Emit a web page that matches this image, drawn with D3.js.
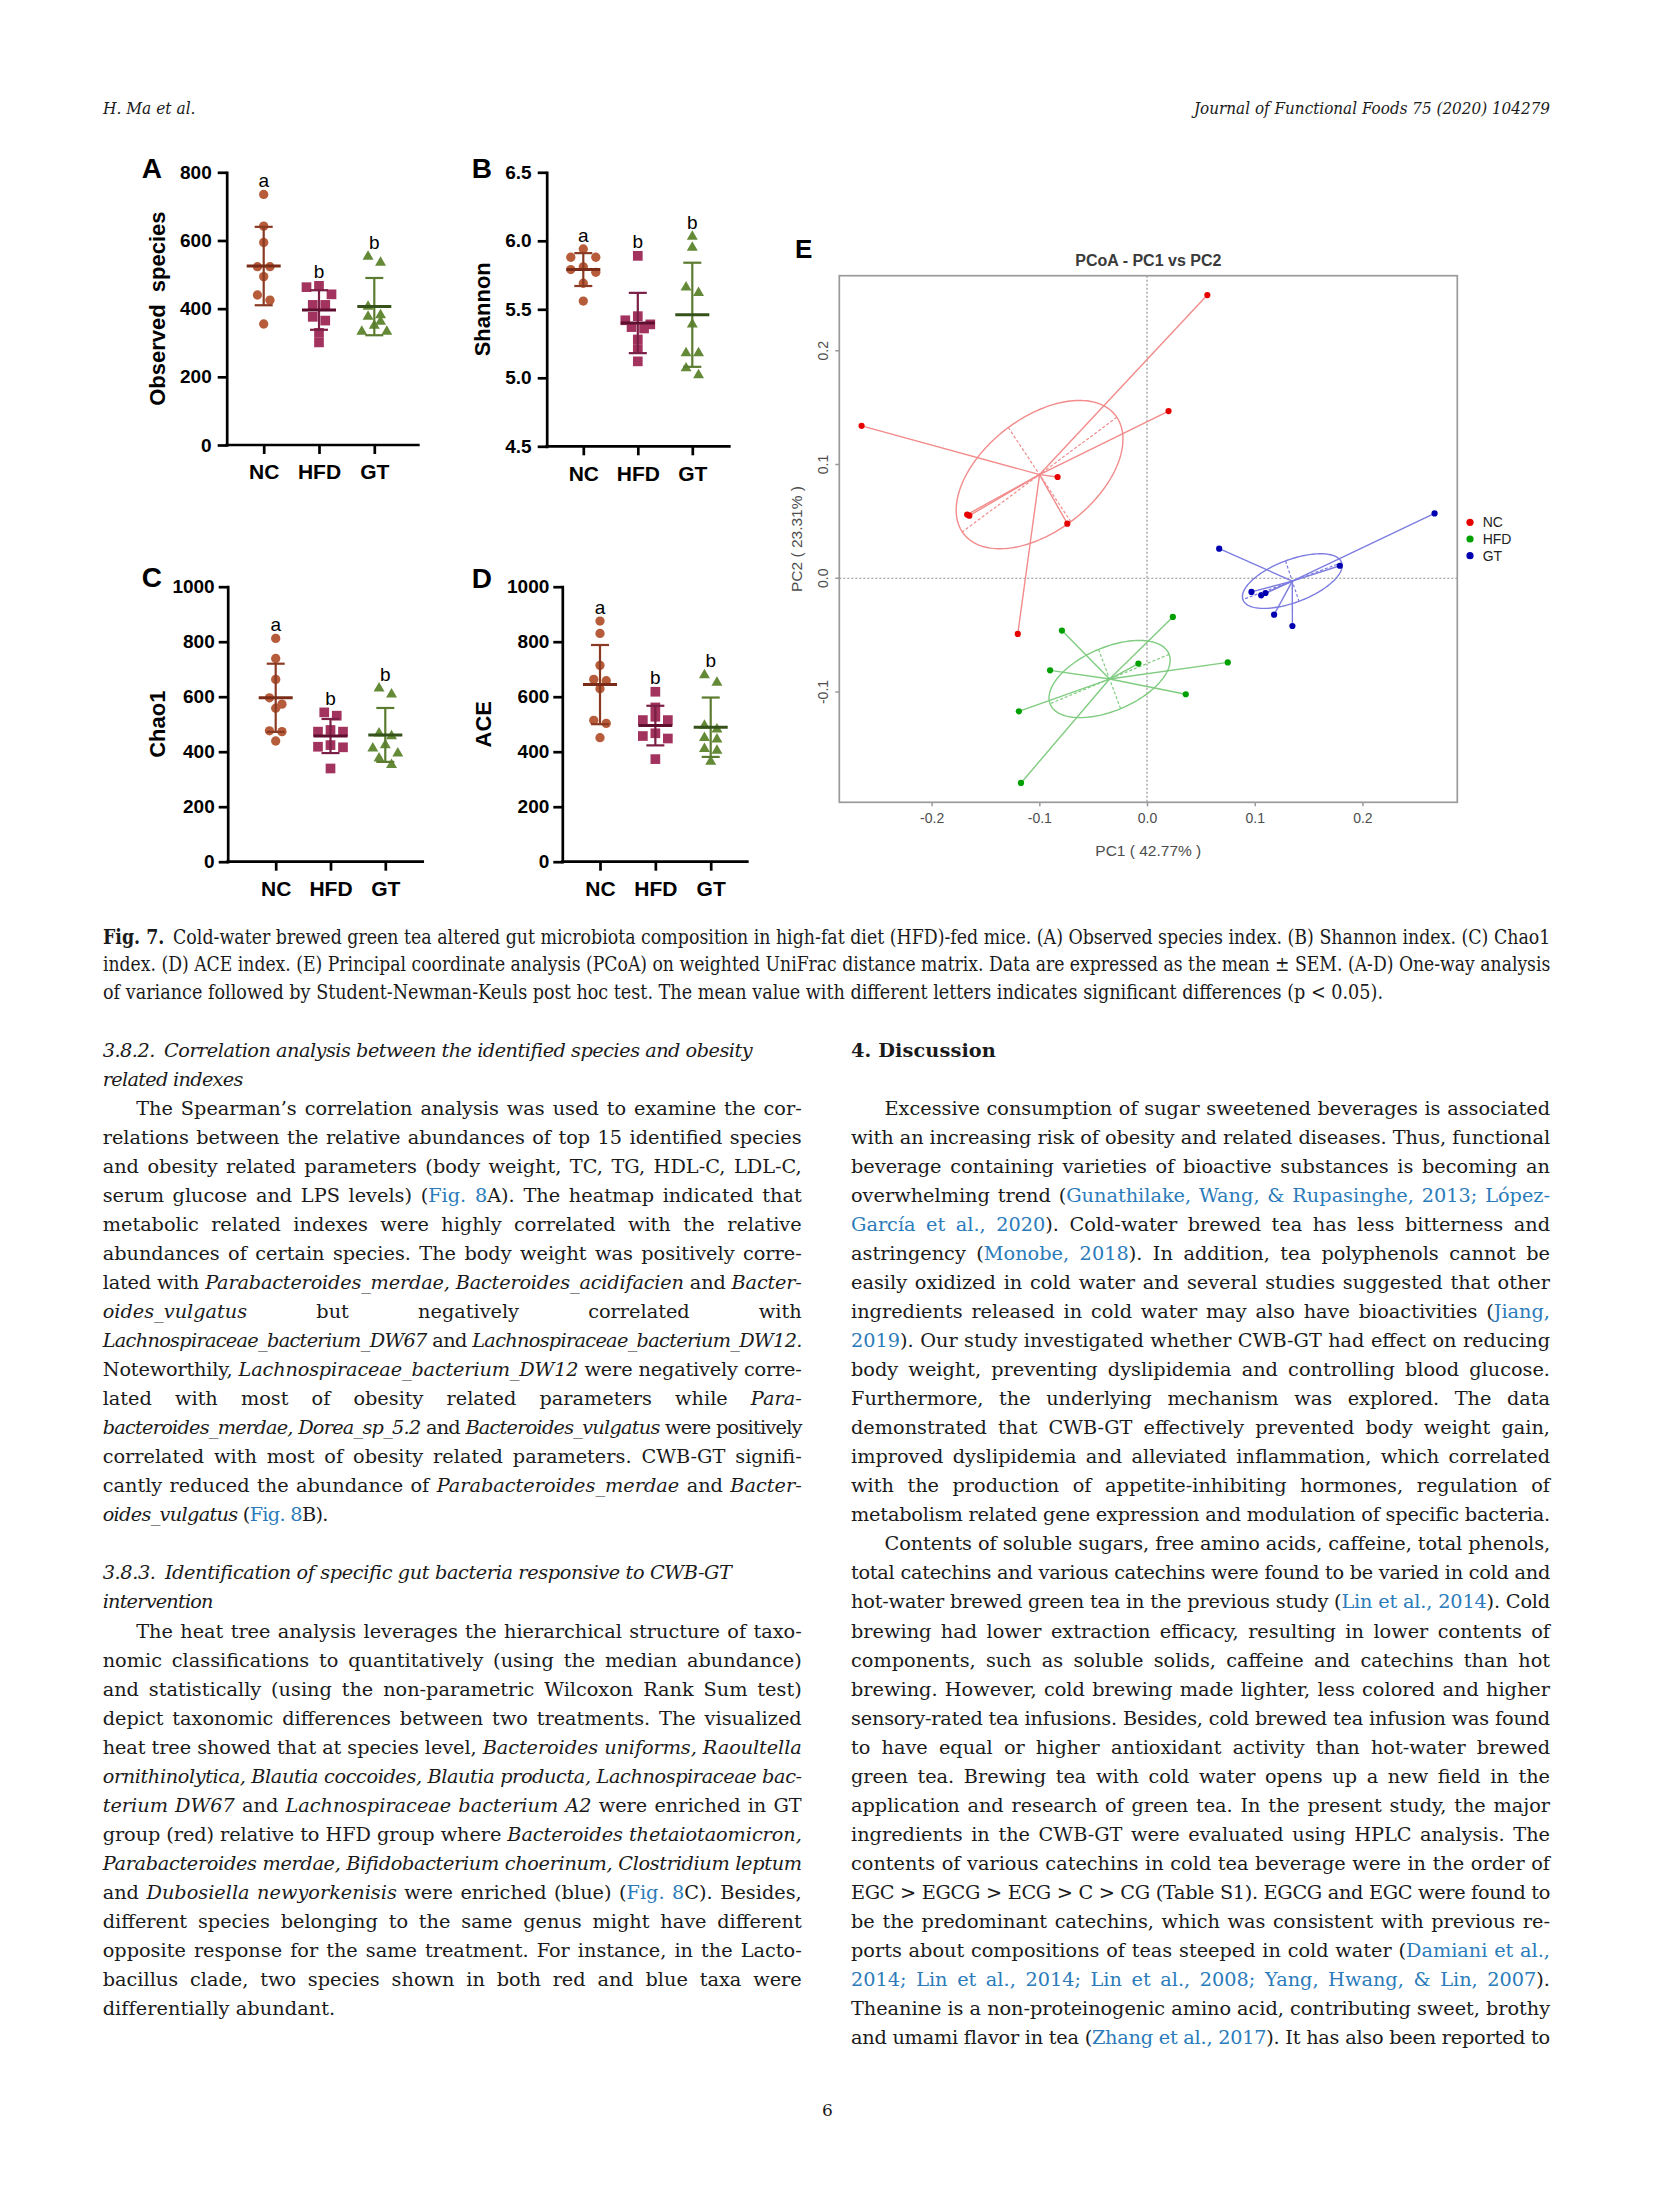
<!DOCTYPE html>
<html><head><meta charset="utf-8">
<script src="https://cdn.jsdelivr.net/npm/d3@7/dist/d3.min.js"></script>
<style>
html,body{margin:0;padding:0;background:#fff;}
#page{position:relative;width:1654px;height:2205px;overflow:hidden;background:#fff;}
#fig{position:absolute;left:0;top:0;}
.ln{position:absolute;white-space:nowrap;font-family:"DejaVu Serif",serif;color:#1a1a1a;transform-origin:0 50%;}
.ln a{color:#2b7bba;text-decoration:none;}
</style></head>
<body><div id="page"></div>
<script>
// ---------------- DATA ----------------
const groups = ["NC", "HFD", "GT"];

// (A) Observed species
const obsNC  = [735, 642, 594, 523, 523, 494, 440, 425, 355];
const obsHFD = [467, 463, 442, 411, 411, 376, 365, 329, 301];
const obsGT  = [553, 535, 406, 381, 377, 362, 350, 333, 333];
const obsMean = [525, 396, 406];
const obsSD   = [115, 58, 84];
const obsLetters = ["a", "b", "b"];
const obsTicks = [0, 200, 400, 600, 800];

// (B) Shannon
const shaNC  = [5.94, 5.88, 5.88, 5.81, 5.79, 5.77, 5.69, 5.56];
const shaHFD = [5.89, 5.45, 5.42, 5.39, 5.37, 5.36, 5.28, 5.21, 5.12];
const shaGT  = [6.03, 5.95, 5.66, 5.62, 5.39, 5.18, 5.18, 5.07, 5.02];
const shaMean = [5.79, 5.40, 5.46];
const shaSD   = [0.12, 0.22, 0.38];
const shaLetters = ["a", "b", "b"];
const shaTicks = [4.5, 5.0, 5.5, 6.0, 6.5];

// (C) Chao1
const chaoNC  = [812, 739, 663, 596, 573, 558, 476, 473, 439];
const chaoHFD = [543, 531, 479, 473, 473, 424, 418, 416, 339];
const chaoGT  = [630, 609, 467, 457, 424, 412, 394, 376, 352];
const chaoMean = [596, 457, 461];
const chaoSD   = [124, 62, 98];
const chaoLetters = ["a", "b", "b"];

// (D) ACE
const aceNC  = [875, 830, 714, 663, 658, 629, 514, 503, 451];
const aceHFD = [618, 561, 527, 515, 515, 467, 457, 448, 373];
const aceGT  = [679, 651, 495, 481, 450, 445, 410, 404, 364];
const aceMean = [644, 495, 489];
const aceSD   = [144, 72, 108];
const aceLetters = ["a", "b", "b"];
const countTicks = [0, 200, 400, 600, 800, 1000];

// (E) PCoA (PC1, PC2)
const pcoaNC  = [[-0.265, 0.134], [-0.083, 0.089], [-0.165, 0.055], [-0.167, 0.056], [-0.074, 0.048], [0.020, 0.147], [0.056, 0.249], [-0.120, -0.049]];
const pcoaHFD = [[-0.079, -0.046], [-0.090, -0.081], [-0.119, -0.117], [-0.117, -0.180], [-0.008, -0.075], [0.024, -0.034], [0.036, -0.102], [0.075, -0.074]];
const pcoaGT  = [[0.267, 0.057], [0.067, 0.026], [0.179, 0.011], [0.097, -0.012], [0.106, -0.015], [0.110, -0.013], [0.118, -0.032], [0.135, -0.042]];
const pcoaXTicks = [-0.2, -0.1, 0.0, 0.1, 0.2];
const pcoaYTicks = [-0.1, 0.0, 0.1, 0.2];
const pcoaTitle = "PCoA - PC1 vs PC2";
const pcoaXLabel = "PC1 ( 42.77% )";
const pcoaYLabel = "PC2 ( 23.31% )";

// ---------------- TEXT ----------------
const headerLeft = "H. Ma et al.";
const headerRight = "Journal of Functional Foods 75 (2020) 104279";
const pageNumber = "6";
const captionLines = [
 "<b>Fig. 7.</b>&ensp;Cold-water brewed green tea altered gut microbiota composition in high-fat diet (HFD)-fed mice. (A) Observed species index. (B) Shannon index. (C) Chao1",
 "index. (D) ACE index. (E) Principal coordinate analysis (PCoA) on weighted UniFrac distance matrix. Data are expressed as the mean ± SEM. (A-D) One-way analysis",
 "of variance followed by Student-Newman-Keuls post hoc test. The mean value with different letters indicates significant differences (p &lt; 0.05)."
];
const leftLines = [
 {m:"h", w:649, t:"<i>3.8.2.&ensp;Correlation analysis between the identified species and obesity</i>"},
 {m:"h", w:140, t:"<i>related indexes</i>"},
 {m:"f", t:"The Spearman’s correlation analysis was used to examine the cor-"},
 {m:"j", t:"relations between the relative abundances of top 15 identified species"},
 {m:"j", t:"and obesity related parameters (body weight, TC, TG, HDL-C, LDL-C,"},
 {m:"j", t:"serum glucose and LPS levels) (<a>Fig. 8</a>A). The heatmap indicated that"},
 {m:"j", t:"metabolic related indexes were highly correlated with the relative"},
 {m:"j", t:"abundances of certain species. The body weight was positively corre-"},
 {m:"j", t:"lated with <i>Parabacteroides_merdae, Bacteroides_acidifacien</i> and <i>Bacter-</i>"},
 {m:"j", t:"<i>oides_vulgatus</i> but negatively correlated with"},
 {m:"j", t:"<i>Lachnospiraceae_bacterium_DW67</i> and <i>Lachnospiraceae_bacterium_DW12.</i>"},
 {m:"j", t:"Noteworthily, <i>Lachnospiraceae_bacterium_DW12</i> were negatively corre-"},
 {m:"j", t:"lated with most of obesity related parameters while <i>Para-</i>"},
 {m:"j", t:"<i>bacteroides_merdae, Dorea_sp_5.2</i> and <i>Bacteroides_vulgatus</i> were positively"},
 {m:"j", t:"correlated with most of obesity related parameters. CWB-GT signifi-"},
 {m:"j", t:"cantly reduced the abundance of <i>Parabacteroides_merdae</i> and <i>Bacter-</i>"},
 {m:"e", w:225, t:"<i>oides_vulgatus</i> (<a>Fig. 8</a>B)."},
 null,
 {m:"h", w:628, t:"<i>3.8.3.&ensp;Identification of specific gut bacteria responsive to CWB-GT</i>"},
 {m:"h", w:110, t:"<i>intervention</i>"},
 {m:"f", t:"The heat tree analysis leverages the hierarchical structure of taxo-"},
 {m:"j", t:"nomic classifications to quantitatively (using the median abundance)"},
 {m:"j", t:"and statistically (using the non-parametric Wilcoxon Rank Sum test)"},
 {m:"j", t:"depict taxonomic differences between two treatments. The visualized"},
 {m:"j", t:"heat tree showed that at species level, <i>Bacteroides uniforms, Raoultella</i>"},
 {m:"j", t:"<i>ornithinolytica, Blautia coccoides, Blautia producta, Lachnospiraceae bac-</i>"},
 {m:"j", t:"<i>terium DW67</i> and <i>Lachnospiraceae bacterium A2</i> were enriched in GT"},
 {m:"j", t:"group (red) relative to HFD group where <i>Bacteroides thetaiotaomicron,</i>"},
 {m:"j", t:"<i>Parabacteroides merdae, Bifidobacterium choerinum, Clostridium leptum</i>"},
 {m:"j", t:"and <i>Dubosiella newyorkenisis</i> were enriched (blue) (<a>Fig. 8</a>C). Besides,"},
 {m:"j", t:"different species belonging to the same genus might have different"},
 {m:"j", t:"opposite response for the same treatment. For instance, in the Lacto-"},
 {m:"j", t:"bacillus clade, two species shown in both red and blue taxa were"},
 {m:"e", w:232, t:"differentially abundant."}
];
const rightLines = [
 {m:"h", w:145, t:"<b>4. Discussion</b>"},
 null,
 {m:"f", t:"Excessive consumption of sugar sweetened beverages is associated"},
 {m:"j", t:"with an increasing risk of obesity and related diseases. Thus, functional"},
 {m:"j", t:"beverage containing varieties of bioactive substances is becoming an"},
 {m:"j", t:"overwhelming trend (<a>Gunathilake, Wang, &amp; Rupasinghe, 2013; López-</a>"},
 {m:"j", t:"<a>García et al., 2020</a>). Cold-water brewed tea has less bitterness and"},
 {m:"j", t:"astringency (<a>Monobe, 2018</a>). In addition, tea polyphenols cannot be"},
 {m:"j", t:"easily oxidized in cold water and several studies suggested that other"},
 {m:"j", t:"ingredients released in cold water may also have bioactivities (<a>Jiang,</a>"},
 {m:"j", t:"<a>2019</a>). Our study investigated whether CWB-GT had effect on reducing"},
 {m:"j", t:"body weight, preventing dyslipidemia and controlling blood glucose."},
 {m:"j", t:"Furthermore, the underlying mechanism was explored. The data"},
 {m:"j", t:"demonstrated that CWB-GT effectively prevented body weight gain,"},
 {m:"j", t:"improved dyslipidemia and alleviated inflammation, which correlated"},
 {m:"j", t:"with the production of appetite-inhibiting hormones, regulation of"},
 {m:"j", t:"metabolism related gene expression and modulation of specific bacteria."},
 {m:"f", t:"Contents of soluble sugars, free amino acids, caffeine, total phenols,"},
 {m:"j", t:"total catechins and various catechins were found to be varied in cold and"},
 {m:"j", t:"hot-water brewed green tea in the previous study (<a>Lin et al., 2014</a>). Cold"},
 {m:"j", t:"brewing had lower extraction efficacy, resulting in lower contents of"},
 {m:"j", t:"components, such as soluble solids, caffeine and catechins than hot"},
 {m:"j", t:"brewing. However, cold brewing made lighter, less colored and higher"},
 {m:"j", t:"sensory-rated tea infusions. Besides, cold brewed tea infusion was found"},
 {m:"j", t:"to have equal or higher antioxidant activity than hot-water brewed"},
 {m:"j", t:"green tea. Brewing tea with cold water opens up a new field in the"},
 {m:"j", t:"application and research of green tea. In the present study, the major"},
 {m:"j", t:"ingredients in the CWB-GT were evaluated using HPLC analysis. The"},
 {m:"j", t:"contents of various catechins in cold tea beverage were in the order of"},
 {m:"j", t:"EGC &gt; EGCG &gt; ECG &gt; C &gt; CG (Table S1). EGCG and EGC were found to"},
 {m:"j", t:"be the predominant catechins, which was consistent with previous re-"},
 {m:"j", t:"ports about compositions of teas steeped in cold water (<a>Damiani et al.,</a>"},
 {m:"j", t:"<a>2014; Lin et al., 2014; Lin et al., 2008; Yang, Hwang, &amp; Lin, 2007</a>)."},
 {m:"j", t:"Theanine is a non-proteinogenic amino acid, contributing sweet, brothy"},
 {m:"j", t:"and umami flavor in tea (<a>Zhang et al., 2017</a>). It has also been reported to"}
];

// ---------------- RENDER ----------------
const SANS = '"Liberation Sans", Arial, Helvetica, sans-serif';
const page = d3.select("#page");
const svg = page.append("svg").attr("id", "fig").attr("width", 1654).attr("height", 2205);

const palette = {
  NC:  {fill: "#b65c3a", line: "#7a2c18", sd: "#8a3a22", sym: d3.symbolCircle, size: 68},
  HFD: {fill: "#a2335e", line: "#5e0f30", sd: "#7a1f45", sym: d3.symbolSquare, size: 94},
  GT:  {fill: "#648a38", line: "#34521a", sd: "#5b7c30", sym: d3.symbolTriangle, size: 52}
};

// Prism-like row swarm layout
function swarm(values, y, cx) {
  const ROW_H = 9, SLOT = 12.5;
  const pts = values.map(v => ({v, py: y(v)}));
  const sorted = pts.slice().sort((a, b) => a.py - b.py);
  const rows = []; let cur = null;
  sorted.forEach(p => {
    if (!cur || p.py - cur[0].py >= ROW_H) { cur = [p]; rows.push(cur); } else cur.push(p);
  });
  rows.forEach(r => {
    const k = r.length;
    const slots = d3.range(k).map(j => (j - (k - 1) / 2) * SLOT)
      .sort((a, b) => Math.abs(a) - Math.abs(b) || a - b);
    r.forEach((p, j) => p.px = cx + slots[j]);
  });
  return pts;
}

function dotPanel(c) {
  const y = d3.scaleLinear().domain(c.yDomain).range(c.yRange);
  const x = d3.scalePoint().domain(groups).range(c.catRange);
  const g = svg.append("g");
  const y0 = y(c.yDomain[0]);

  const ya = g.append("g").attr("transform", `translate(${c.axisX},0)`)
    .call(d3.axisLeft(y).tickValues(c.ticks).tickFormat(c.fmt).tickSize(9).tickSizeOuter(0).tickPadding(c.pad));
  ya.attr("font-family", SANS).attr("font-size", 19).attr("font-weight", "bold");
  ya.select(".domain").attr("stroke", "#000").attr("stroke-width", 2.7).attr("stroke-linecap", "square");
  ya.selectAll(".tick line").attr("stroke", "#000").attr("stroke-width", 2.7);
  ya.selectAll(".tick text").attr("fill", "#000");

  g.append("line").attr("x1", c.axisX).attr("x2", c.xEnd).attr("y1", y0).attr("y2", y0)
    .attr("stroke", "#000").attr("stroke-width", 2.7).attr("stroke-linecap", "square");
  const xa = g.append("g").attr("transform", `translate(0,${y0})`)
    .call(d3.axisBottom(x).tickSize(9).tickSizeOuter(0).tickPadding(10.3));
  xa.select(".domain").remove();
  xa.attr("font-family", SANS).attr("font-size", 21).attr("font-weight", "bold");
  xa.selectAll(".tick line").attr("stroke", "#000").attr("stroke-width", 2.7);
  xa.selectAll(".tick text").attr("fill", "#000");

  g.append("text").attr("transform", `translate(${c.titleX},${(c.yRange[0] + c.yRange[1]) / 2}) rotate(-90)`)
    .attr("text-anchor", "middle").attr("dominant-baseline", "central")
    .attr("font-family", SANS).attr("font-size", 22).attr("font-weight", "bold").text(c.title);

  g.append("text").attr("x", c.letterX).attr("y", c.letterY)
    .attr("font-family", SANS).attr("font-size", 28).attr("font-weight", "bold").text(c.panel);

  groups.forEach((grp, gi) => {
    const p = palette[grp];
    const pts = swarm(c.data[gi], y, x(grp));
    g.append("g").selectAll("path").data(pts).join("path")
      .attr("transform", d => `translate(${d.px},${d.py})`)
      .attr("d", d3.symbol().type(p.sym).size(p.size)())
      .attr("fill", p.fill);
  });
  groups.forEach((grp, gi) => {
    const p = palette[grp], cx = x(grp);
    const m = c.mean[gi], s = c.sd[gi];
    const eg = g.append("g");
    eg.append("line").attr("x1", cx).attr("x2", cx).attr("y1", y(m - s)).attr("y2", y(m + s))
      .attr("stroke", p.sd).attr("stroke-width", 2.2);
    [m - s, m + s].forEach(v => eg.append("line").attr("x1", cx - 9).attr("x2", cx + 9)
      .attr("y1", y(v)).attr("y2", y(v)).attr("stroke", p.sd).attr("stroke-width", 2.2));
    eg.append("line").attr("x1", cx - 17).attr("x2", cx + 17).attr("y1", y(m)).attr("y2", y(m))
      .attr("stroke", p.line).attr("stroke-width", 3);
    g.append("text").attr("x", cx).attr("y", y(d3.max(c.data[gi])) - 14)
      .attr("text-anchor", "middle").attr("dominant-baseline", "central")
      .attr("font-family", SANS).attr("font-size", 19).attr("fill", "#000").text(c.letters[gi]);
  });
}

dotPanel({panel: "A", letterX: 141.7, letterY: 178.3, data: [obsNC, obsHFD, obsGT], mean: obsMean, sd: obsSD, letters: obsLetters,
  ticks: obsTicks, fmt: d3.format("d"), yDomain: [0, 800], yRange: [445, 172.3], axisX: 226.7, xEnd: 418.3,
  catRange: [263.7, 374.3], title: "Observed\u00a0\u00a0species", titleX: 157.3, pad: 6});
dotPanel({panel: "B", letterX: 471.7, letterY: 178.3, data: [shaNC, shaHFD, shaGT], mean: shaMean, sd: shaSD, letters: shaLetters,
  ticks: shaTicks, fmt: d3.format(".1f"), yDomain: [4.5, 6.5], yRange: [446.3, 172.3], axisX: 546.7, xEnd: 729.3,
  catRange: [583.3, 692.3], title: "Shannon", titleX: 482.7, pad: 6});
dotPanel({panel: "C", letterX: 141.7, letterY: 586.7, data: [chaoNC, chaoHFD, chaoGT], mean: chaoMean, sd: chaoSD, letters: chaoLetters,
  ticks: countTicks, fmt: d3.format("d"), yDomain: [0, 1000], yRange: [861.7, 586.7], axisX: 227.7, xEnd: 422.7,
  catRange: [275.7, 385.3], title: "Chao1", titleX: 157.3, pad: 4});
dotPanel({panel: "D", letterX: 471.7, letterY: 588, data: [aceNC, aceHFD, aceGT], mean: aceMean, sd: aceSD, letters: aceLetters,
  ticks: countTicks, fmt: d3.format("d"), yDomain: [0, 1000], yRange: [861.7, 586.7], axisX: 562.3, xEnd: 747.3,
  catRange: [600, 710.7], title: "ACE", titleX: 483.3, pad: 4});

// ---------------- PCoA ----------------
(function () {
  const L = 839.3, R = 1457.3, T = 275.7, B = 802.3;
  const x = d3.scaleLinear().domain([-0.2857, 0.2881]).range([L, R]);
  const y = d3.scaleLinear().domain([-0.197, 0.266]).range([B, T]);
  const g = svg.append("g");
  const gray = "#4d4d4d";
  const cols = {
    NC:  {pt: "#e60000", ln: "#f28b8b"},
    HFD: {pt: "#00a000", ln: "#80cc80"},
    GT:  {pt: "#0000b0", ln: "#7d7de0"}
  };
  const sets = [pcoaNC, pcoaHFD, pcoaGT];

  g.append("text").attr("x", 795).attr("y", 258.3).attr("font-family", SANS)
    .attr("font-size", 26).attr("font-weight", "bold").text("E");
  g.append("text").attr("x", (L + R) / 2).attr("y", 260).attr("text-anchor", "middle")
    .attr("dominant-baseline", "central").attr("font-family", SANS).attr("font-size", 16)
    .attr("font-weight", "bold").attr("fill", "#3a3a3a").text(pcoaTitle);

  g.append("line").attr("x1", x(0)).attr("x2", x(0)).attr("y1", T).attr("y2", B)
    .attr("stroke", "#8a8a8a").attr("stroke-width", 1.1).attr("stroke-dasharray", "2,2");
  g.append("line").attr("x1", L).attr("x2", R).attr("y1", y(0)).attr("y2", y(0))
    .attr("stroke", "#8a8a8a").attr("stroke-width", 1.1).attr("stroke-dasharray", "2,2");

  function covEllipse(pts, conf) {
    const n = pts.length;
    const mx = d3.mean(pts, d => d[0]), my = d3.mean(pts, d => d[1]);
    let sxx = 0, syy = 0, sxy = 0;
    pts.forEach(([a, b]) => { const dx = a - mx, dy = b - my; sxx += dx * dx; syy += dy * dy; sxy += dx * dy; });
    sxx /= (n - 1); syy /= (n - 1); sxy /= (n - 1);
    const tr = sxx + syy, det = sxx * syy - sxy * sxy;
    const disc = Math.sqrt(Math.max(0, tr * tr / 4 - det));
    const l1 = tr / 2 + disc, l2 = tr / 2 - disc;
    const th = Math.atan2(l1 - sxx, sxy);
    const k = Math.sqrt(-2 * Math.log(1 - conf)) / Math.sqrt(n);
    return {mx, my, a: k * Math.sqrt(l1), b: k * Math.sqrt(Math.max(l2, 0)), th};
  }
  function ePt(e, t) {
    const c = Math.cos(e.th), s = Math.sin(e.th);
    return [e.mx + e.a * Math.cos(t) * c - e.b * Math.sin(t) * s, e.my + e.a * Math.cos(t) * s + e.b * Math.sin(t) * c];
  }

  groups.forEach((grp, gi) => {
    const pts = sets[gi], col = cols[grp];
    const e = covEllipse(pts, 0.89);
    const cg = g.append("g");
    cg.selectAll("line.sp").data(pts).join("line").attr("class", "sp")
      .attr("x1", x(e.mx)).attr("y1", y(e.my)).attr("x2", d => x(d[0])).attr("y2", d => y(d[1]))
      .attr("stroke", col.ln).attr("stroke-width", 1.4);
    const ring = d3.range(0, 2 * Math.PI + 0.001, Math.PI / 90).map(t => ePt(e, t));
    cg.append("path").attr("d", d3.line().x(d => x(d[0])).y(d => y(d[1]))(ring))
      .attr("fill", "none").attr("stroke", col.ln).attr("stroke-width", 1.4);
    [[0, Math.PI], [Math.PI / 2, 3 * Math.PI / 2]].forEach(([t1, t2]) => {
      const p1 = ePt(e, t1), p2 = ePt(e, t2);
      cg.append("line").attr("x1", x(p1[0])).attr("y1", y(p1[1])).attr("x2", x(p2[0])).attr("y2", y(p2[1]))
        .attr("stroke", col.ln).attr("stroke-width", 1.2).attr("stroke-dasharray", "3,2");
    });
  });
  groups.forEach((grp, gi) => {
    g.append("g").selectAll("circle").data(sets[gi]).join("circle")
      .attr("cx", d => x(d[0])).attr("cy", d => y(d[1])).attr("r", 3.1).attr("fill", cols[grp].pt);
  });

  g.append("rect").attr("x", L).attr("y", T).attr("width", R - L).attr("height", B - T)
    .attr("fill", "none").attr("stroke", "#9a9a9a").attr("stroke-width", 1.7);
  const xa = g.append("g").attr("transform", `translate(0,${B})`)
    .call(d3.axisBottom(x).tickValues(pcoaXTicks).tickFormat(v => v.toFixed(1)).tickSize(4).tickSizeOuter(0).tickPadding(7));
  xa.select(".domain").remove();
  xa.attr("font-family", SANS).attr("font-size", 14);
  xa.selectAll(".tick line").attr("stroke", "#9a9a9a").attr("stroke-width", 1.5);
  xa.selectAll(".tick text").attr("fill", gray);
  pcoaYTicks.forEach(v => {
    g.append("line").attr("x1", L - 4).attr("x2", L).attr("y1", y(v)).attr("y2", y(v))
      .attr("stroke", "#9a9a9a").attr("stroke-width", 1.5);
    g.append("text").attr("transform", `translate(822.7,${y(v)}) rotate(-90)`)
      .attr("text-anchor", "middle").attr("dominant-baseline", "central")
      .attr("font-family", SANS).attr("font-size", 14).attr("fill", gray).text(v.toFixed(1));
  });
  g.append("text").attr("x", (L + R) / 2).attr("y", 850).attr("text-anchor", "middle")
    .attr("dominant-baseline", "central").attr("font-family", SANS).attr("font-size", 15.5)
    .attr("fill", gray).text(pcoaXLabel);
  g.append("text").attr("transform", `translate(796.7,${(T + B) / 2}) rotate(-90)`)
    .attr("text-anchor", "middle").attr("dominant-baseline", "central").attr("font-family", SANS)
    .attr("font-size", 15.5).attr("fill", gray).text(pcoaYLabel);

  const leg = g.append("g");
  groups.forEach((grp, i) => {
    const ly = 522.3 + i * 16.7;
    leg.append("circle").attr("cx", 1470).attr("cy", ly).attr("r", 3.6).attr("fill", cols[grp].pt);
    leg.append("text").attr("x", 1482.7).attr("y", ly).attr("dominant-baseline", "central")
      .attr("font-family", SANS).attr("font-size", 14).attr("fill", "#222").text(grp);
  });
})();

// ---------------- TEXT LAYOUT ----------------
function placeLine(o) {
  const div = page.append("div").attr("class", "ln")
    .style("left", o.x + "px").style("top", o.top + "px")
    .style("font-size", o.fs + "px").style("line-height", o.lh + "px")
    .html(`<span class="in">${o.html}</span>`);
  if (o.italic) div.style("font-style", "italic");
  const span = div.select("span.in").node();
  const nat = span.getBoundingClientRect().width;
  const txt = span.textContent;
  const spaces = (txt.match(/ /g) || []).length;
  let finalW = nat;
  if (o.mode === "j") {
    div.style("width", o.w + "px");
    if (nat > o.w) div.style("letter-spacing", (-(nat - o.w + 0.5) / txt.length) + "px");
    const nat2 = span.getBoundingClientRect().width;
    if (spaces > 0 && nat2 < o.w) div.style("word-spacing", ((o.w - nat2) / spaces) + "px");
  } else if (o.mode === "js") {
    if (nat > o.w) { div.style("transform", `scaleX(${o.w / nat})`); }
    else if (spaces > 0) div.style("word-spacing", ((o.w - nat) / spaces) + "px");
  } else if (o.mode === "fit" && o.target) {
    div.style("letter-spacing", ((o.target - nat) / txt.length) + "px");
    finalW = o.target;
  } else if (o.mode === "fs" && o.target) {
    div.style("transform", `scaleX(${o.target / nat})`);
    finalW = o.target;
  }
  if (o.anchor === "end") div.style("left", (o.x - finalW) + "px");
}

const BODY_FS = 19.3, PITCH = 29.03, TOP0 = 1035.9, COLW = 699, INDENT = 33.5;
function column(lines, x0) {
  lines.forEach((ln, i) => {
    if (!ln) return;
    const top = TOP0 + i * PITCH;
    if (ln.m === "f") placeLine({html: ln.t, x: x0 + INDENT, top, fs: BODY_FS, lh: PITCH, mode: "j", w: COLW - INDENT});
    else if (ln.m === "j") placeLine({html: ln.t, x: x0, top, fs: BODY_FS, lh: PITCH, mode: "j", w: COLW});
    else placeLine({html: ln.t, x: x0, top, fs: BODY_FS, lh: PITCH, mode: "fit", target: ln.w});
  });
}
column(leftLines, 102.7);
column(rightLines, 851);

captionLines.forEach((t, i) => {
  const last = i === captionLines.length - 1;
  placeLine({html: t, x: 102.7, top: 923.8 + i * 27.4, fs: 19.5, lh: 27.5,
    mode: last ? "fs" : "js", w: 1447.3, target: last ? 1280 : null});
});

placeLine({html: headerLeft, x: 102.7, top: 99.5, fs: 17, lh: 17, mode: "fs", target: 92.5, italic: true});
placeLine({html: headerRight, x: 1550, top: 99.5, fs: 17, lh: 17, mode: "fs", target: 356, italic: true, anchor: "end"});
placeLine({html: pageNumber, x: 822, top: 2101.6, fs: 17, lh: 17, mode: "none"});
</script>
</body></html>
